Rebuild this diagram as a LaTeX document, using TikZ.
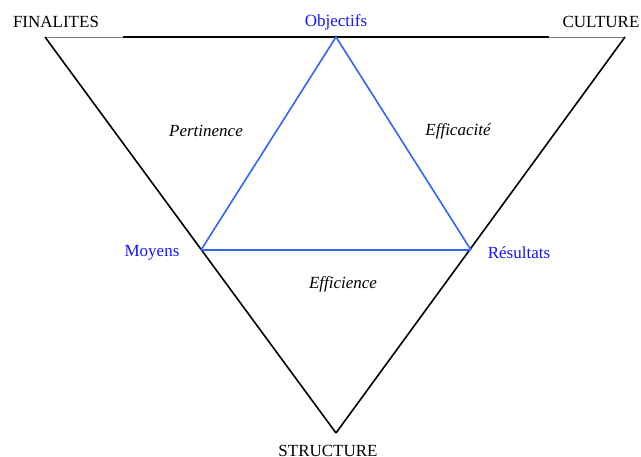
\documentclass[tikz,border=0pt]{standalone}
\usepackage{fontspec}
\setmainfont{Liberation Serif}
\usepackage{xcolor}
\usepackage{tikz}
\usetikzlibrary{positioning}
\definecolor{txtblue}{RGB}{20,20,255}
\definecolor{lineblue}{RGB}{50,100,255}
\tikzset{lbl/.style={inner sep=0pt,font=\fontsize{17}{20}\selectfont},
         blbl/.style={lbl,text=txtblue},
         ilbl/.style={lbl,font=\fontsize{17}{20}\selectfont\itshape},
         side/.style={black,line width=1.6pt},
         blue side/.style={lineblue,line width=1.6pt}}

\begin{document}
\begin{tikzpicture}[x=1pt,y=-1pt]
        \useasboundingbox (0,0) rectangle (641,457);
        \coordinate (f) at (45,37);
        \coordinate (c) at (625,37);
        \coordinate (s) at (336,433);
        \coordinate (o) at (336,37);
        \coordinate (m) at (201,250);
        \coordinate (r) at (471,250);
        \coordinate (tl) at (123,37);
        \coordinate (tr) at (549,37);

        \node[lbl] (fin)at (56,22) {FINALITES};
        \node[lbl] (cul)at (601,22) {CULTURE};
        \node[lbl] (str)at (328,451) {STRUCTURE};
        \node[blbl] (obj)at (336,22) {Objectifs};
        \node[blbl] (moy)at (152,253) {Moyens};
        \node[blbl] (res)at (519,253) {Résultats};
        \node[ilbl] (per)at (206,131) {Pertinence};
        \node[ilbl] (eff)at (458,131) {Efficacité};
        \node[ilbl] (efi)at (343,284) {Efficience};

        \draw [gray,line width=0.8pt] (f) to [] (c);
        \draw [side] (tl) to [] (tr);
        \draw [side] (f) to [] (s);
        \draw [side] (c) to [] (s);
        \draw [blue side] (o) to [] (m);
        \draw [blue side] (o) to [] (r);
        \draw [blue side] (m) to [] (r);
    \end{tikzpicture}
\end{document}
